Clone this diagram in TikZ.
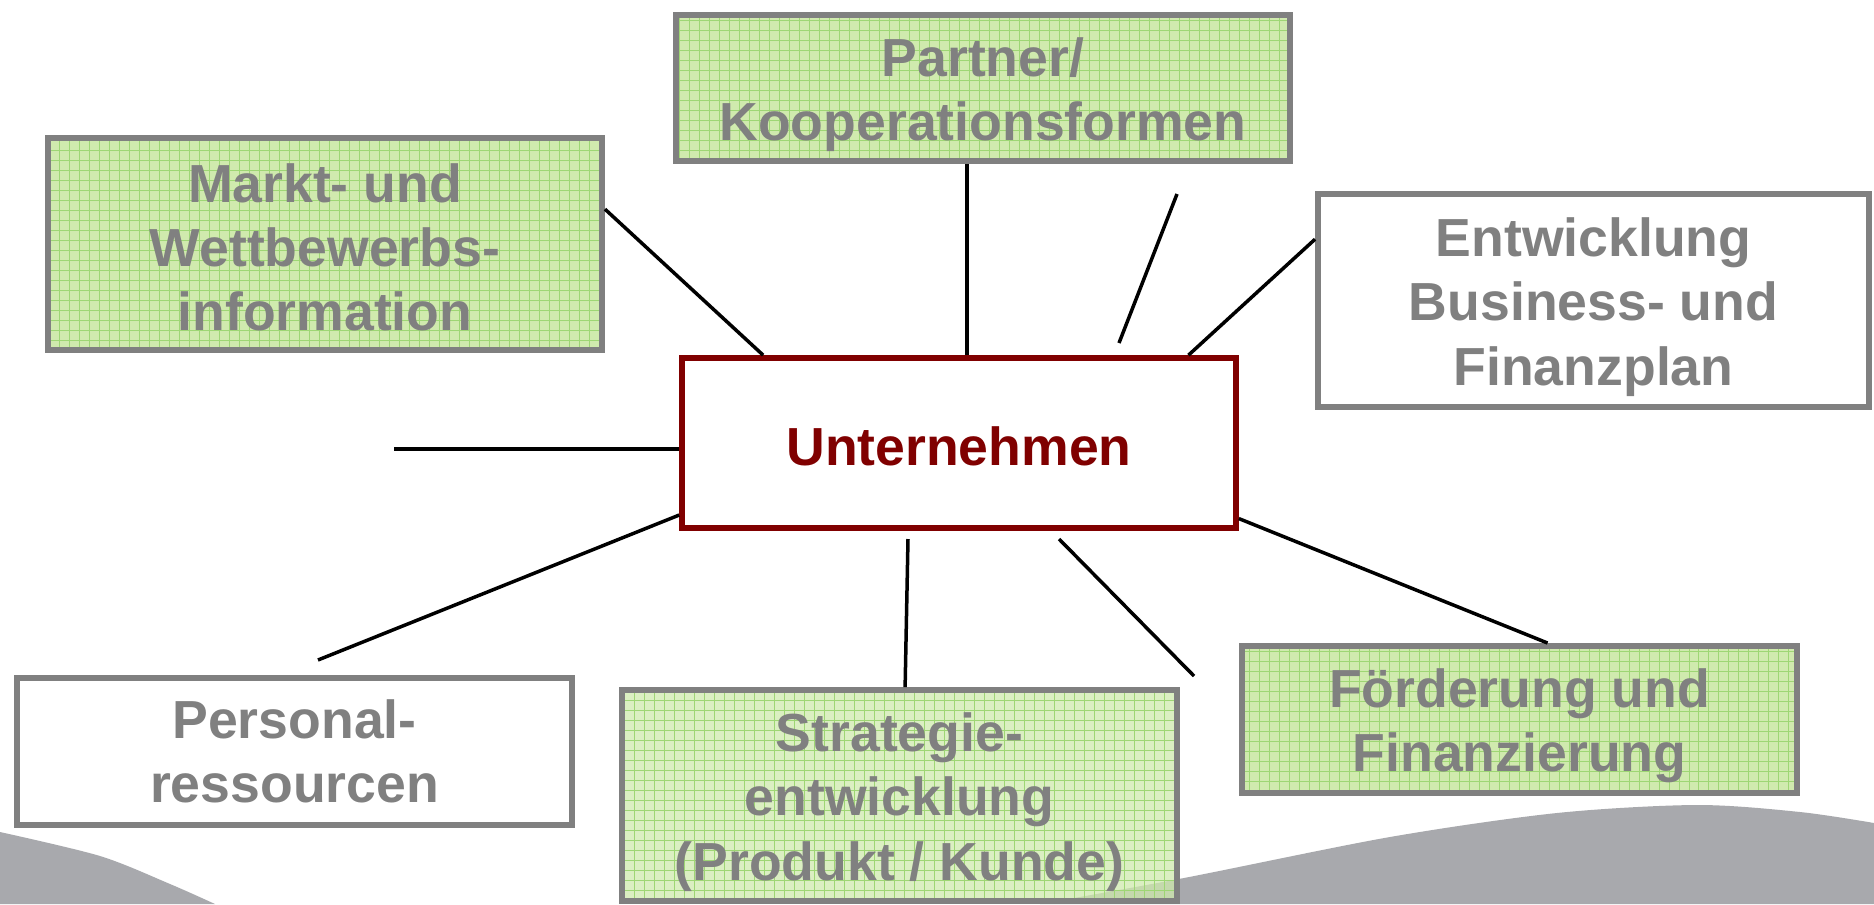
\documentclass[tikz,border=0pt]{standalone}
\usepackage{fontspec}
\setmainfont{Liberation Sans}
\usetikzlibrary{calc}

\definecolor{boxgray}{HTML}{808080}
\definecolor{hubred}{HTML}{800000}
\definecolor{leafgreen}{HTML}{D0EAAE}
\definecolor{gridgreen}{HTML}{9ED674}
\definecolor{wavegray}{HTML}{A8A9AD}

% taller first line, so the text sits a little low in its box
\newcommand\headroom[1][29.5pt]{\rule{0pt}{#1}}

\tikzset{
  box/.style={draw=boxgray, line width=0.12cm, fill=white, text=boxgray,
    align=center, inner sep=0pt,
    font=\fontsize{30.5}{36.6}\selectfont\bfseries},
  greenbox/.style={box, fill=leafgreen,
    path picture={\draw[gridgreen, line width=0.5pt]
      (path picture bounding box.south west) grid[step=0.2cm]
      (path picture bounding box.north east);}},
  hub/.style={box, draw=hubred, line width=0.115cm, text=hubred},
  link/.style={line width=0.07cm, black},
}

\begin{document}
\begin{tikzpicture}[x=0.02cm, y=-0.02cm]
  \useasboundingbox (0,0) rectangle (1874,904);
  \fill[white] (0,0) rectangle (1874,904);

  % grey waves along the bottom edge
  \fill[wavegray] plot[smooth] coordinates {(0,832) (100,856) (170,884) (215,904)}
    -- (0,904) -- cycle;
  \fill[wavegray] plot[smooth] coordinates
    {(1040,904) (1184,878) (1390,837) (1557,813) (1697,805) (1800,812) (1874,823)}
    -- (1874,904) -- cycle;

  % boxes
  \node[hub, minimum width=11.08cm, minimum height=3.4cm] (unt) at (959,443)
    {\headroom[25.6pt]Unternehmen};
  \node[greenbox, minimum width=11.08cm, minimum height=4.24cm] (mkt) at (325,244)
    {\headroom[26pt]Markt- und\\Wettbewerbs-\\information};
  \node[greenbox, minimum width=12.28cm, minimum height=2.92cm] (prt) at (983,88)
    {\headroom Partner/\\Kooperationsformen};
  \node[box, minimum width=11.02cm, minimum height=4.26cm] (ent) at (1593.5,300.5)
    {\headroom Entwicklung\\Business- und\\Finanzplan};
  \node[box, minimum width=11.1cm, minimum height=2.94cm] (pers) at (294.5,751.5)
    {Personal-\\ressourcen};
  \node[greenbox, minimum width=11.1cm, minimum height=4.22cm, fill opacity=0.75,
    text opacity=1] (str) at (899.5,795.5)
    {\headroom Strategie-\\entwicklung\\(Produkt / Kunde)};
  \node[greenbox, minimum width=11.1cm, minimum height=2.94cm] (fdg) at (1519.5,719.5)
    {\headroom Förderung und\\Finanzierung};

  % line ends
  \coordinate (m1) at ($(mkt.north east)!0.34!(mkt.south east)$);
  \coordinate (u1) at ($(unt.north west)!0.15!(unt.north east)$);
  \coordinate (p1) at ($(prt.south west)!0.474!(prt.south east)$);
  \coordinate (u2) at (p1 |- unt.north);
  \coordinate (d1) at (1177,194);
  \coordinate (d2) at (1119,343);
  \coordinate (e1) at ($(ent.north west)!0.22!(ent.south west)$);
  \coordinate (u3) at ($(unt.north west)!0.91!(unt.north east)$);
  \coordinate (l1) at (394,449);
  \coordinate (u4) at (l1 -| unt.west);
  \coordinate (u5) at ($(unt.north west)!0.91!(unt.south west)$);
  \coordinate (r1) at (318,660);
  \coordinate (u6) at (908,539);
  \coordinate (s1) at ($(str.north west)!0.51!(str.north east)$);
  \coordinate (d3) at (1059,539);
  \coordinate (d4) at (1194,676);
  \coordinate (u7) at ($(unt.north east)!0.93!(unt.south east)$);
  \coordinate (f1) at ($(fdg.north west)!0.55!(fdg.north east)$);

  \foreach \a/\b in {m1/u1, p1/u2, d1/d2, e1/u3, l1/u4, u5/r1, u6/s1, d3/d4, u7/f1}
    \draw[link] (\a) -- (\b);
\end{tikzpicture}
\end{document}
